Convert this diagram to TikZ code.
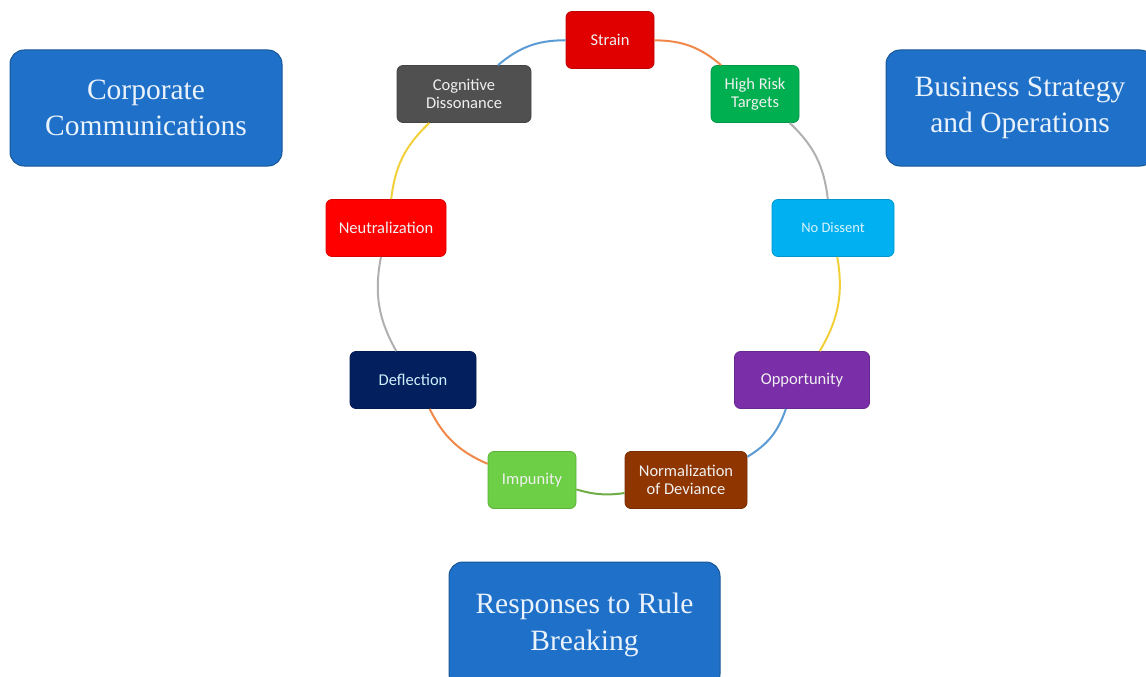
\documentclass[tikz,border=0pt]{standalone}
\usepackage{fontspec}
\setmainfont{Liberation Serif}
\newfontfamily\boxfont{Carlito}
\definecolor{bigblue}{HTML}{1E70C8}
\definecolor{bigborder}{HTML}{1A5796}
\definecolor{cstrain}{HTML}{E00000}
\definecolor{chrt}{HTML}{00B050}
\definecolor{cnodis}{HTML}{00B0F0}
\definecolor{copp}{HTML}{7A2EA8}
\definecolor{cnorm}{HTML}{8E3500}
\definecolor{cimp}{HTML}{6CCF45}
\definecolor{cdefl}{HTML}{041F5E}
\definecolor{cneut}{HTML}{FF0000}
\definecolor{ccog}{HTML}{505050}
\definecolor{lblue}{HTML}{5B9BD5}
\definecolor{lorange}{HTML}{F0884A}
\definecolor{lgray}{HTML}{B0B0B0}
\definecolor{lyellow}{HTML}{F2D03A}
\definecolor{lgreen}{HTML}{70AD47}
\definecolor{bigtext}{HTML}{EAF2FB}
\begin{document}
\begin{tikzpicture}[x=1pt,y=-1pt,
  small/.style={rounded corners=6pt, minimum height=57pt, inner sep=2pt,
    text=white!94!black, align=center, font=\boxfont\fontsize{16.5}{18.5}\selectfont,
    line width=0.8pt},
  big/.style={rounded corners=14pt, fill=bigblue, draw=bigborder, line width=1pt,
    minimum height=116pt, text=bigtext, align=center,
    font=\fontsize{29.5}{36.5}\selectfont},
  conn/.style={line width=2pt}]
\useasboundingbox (0,0) rectangle (1146,677);
\clip (0,0) rectangle (1146,677);
% process boxes
\node[small, minimum width=88pt, fill=cstrain, draw=cstrain!85!black] (strain) at (610,40) {Strain};
\node[small, minimum width=88pt, fill=chrt, draw=chrt!85!black] (hrt) at (755,94) {High Risk\\Targets};
\node[small, minimum width=122pt, fill=cnodis, draw=cnodis!85!black, font=\boxfont\fontsize{14.5}{16}\selectfont, text=white!85!cnodis] (nodis) at (833,228) {No Dissent};
\node[small, minimum width=135pt, fill=copp, draw=copp!85!black] (opp) at (802,380) {Opportunity};
\node[small, minimum width=122pt, fill=cnorm, draw=cnorm!85!black] (norm) at (686,480) {Normalization\\of Deviance};
\node[small, minimum width=88pt, fill=cimp, draw=cimp!85!black] (imp) at (532,480) {Impunity};
\node[small, minimum width=126pt, fill=cdefl, draw=cdefl!85!black, text=white!80!cnodis] (defl) at (413,380) {Deflection};
\node[small, minimum width=120pt, fill=cneut, draw=cneut!85!black] (neut) at (386,228) {Neutralization};
\node[small, minimum width=134pt, fill=ccog, draw=ccog!85!black] (cog) at (464,94) {Cognitive\\Dissonance};
% connectors
\draw[conn, lorange] (strain) to[bend left=20] (hrt);
\draw[conn, lgray] (hrt) to[bend left=20] (nodis);
\draw[conn, lyellow] (nodis) to[bend left=20] (opp);
\draw[conn, lblue] (opp) to[bend left=20] (norm);
\draw[conn, lgreen] (norm) to[bend left=12] (imp);
\draw[conn, lorange] (imp) to[bend left=20] (defl);
\draw[conn, lgray] (defl) to[bend left=20] (neut);
\draw[conn, lyellow] (neut) to[bend left=20] (cog);
\draw[conn, lblue] (cog) to[bend left=20] (strain);
% big boxes
\node[big, minimum width=272pt] (corp) at (146,108) {Corporate\\Communications};
\node[big, minimum width=268pt] (biz) at (1020,108) {Business Strategy\\and Operations};
\node[big, minimum width=271pt, minimum height=126pt] (resp) at (584.5,625) {Responses to Rule\\Breaking};
\end{tikzpicture}
\end{document}
